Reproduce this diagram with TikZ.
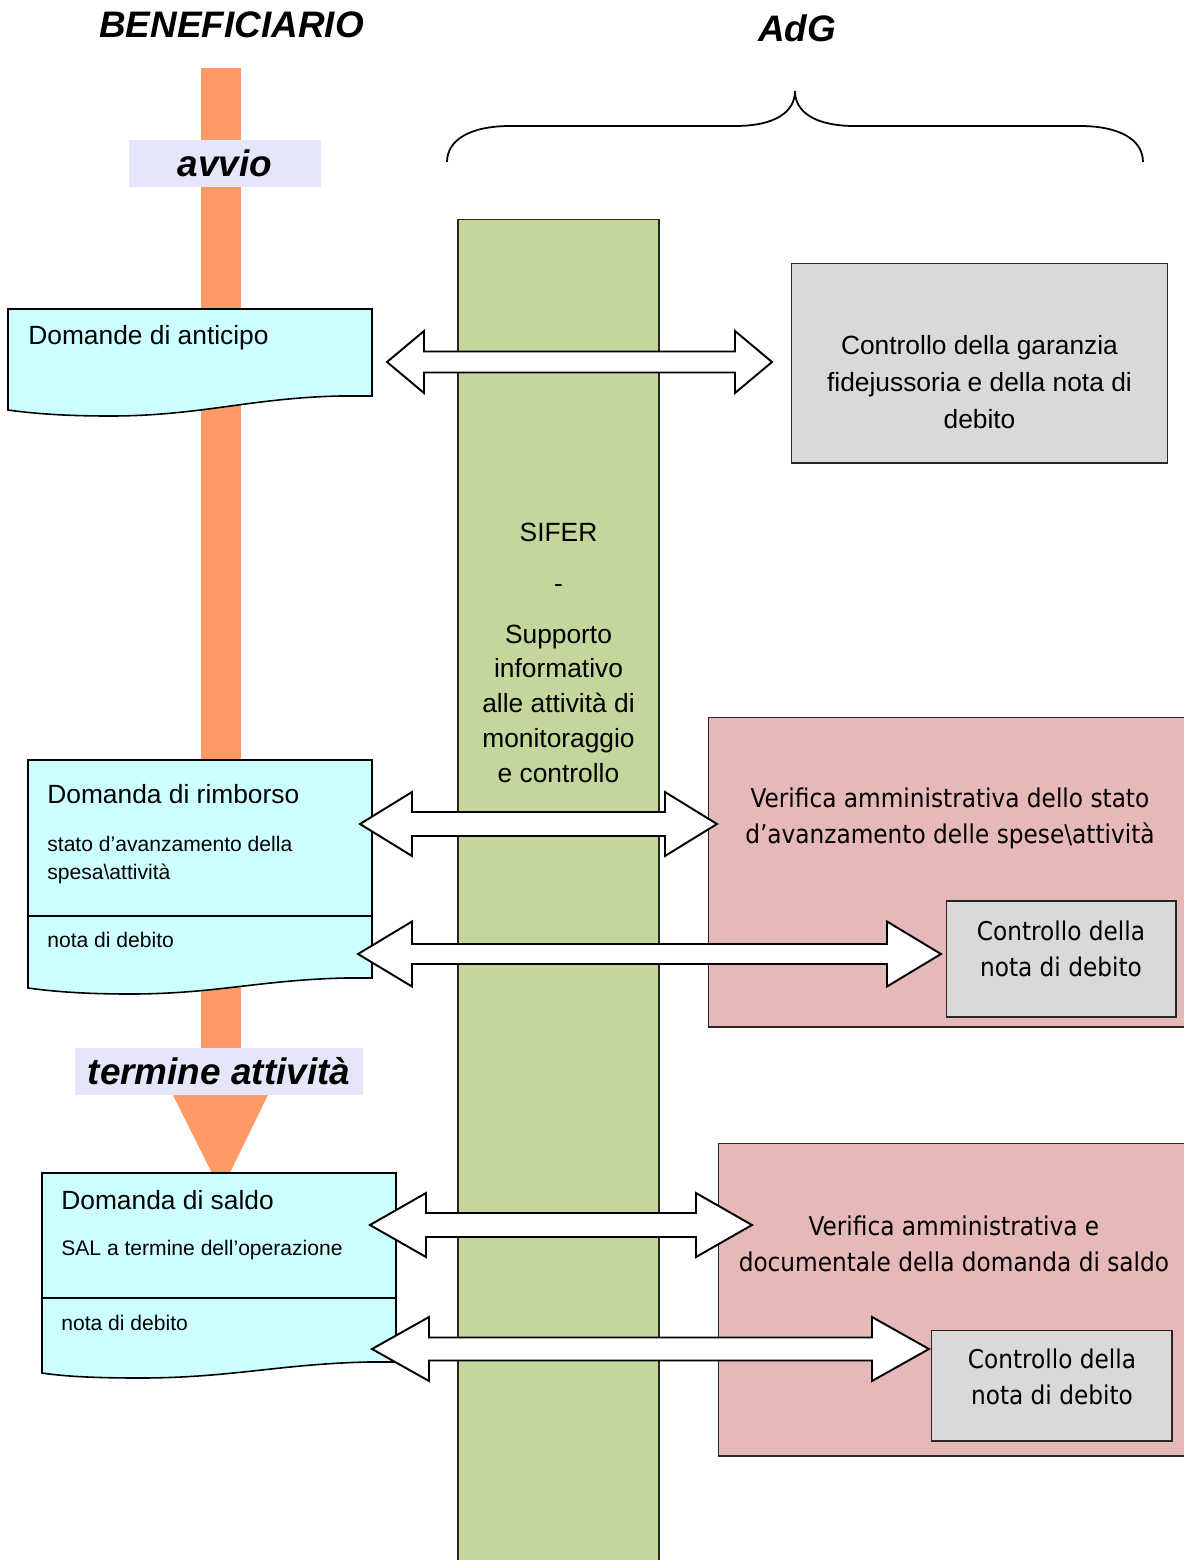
\documentclass[tikz,border=0pt]{standalone}
\usepackage{fontspec}
\setmainfont{Liberation Sans}
\newfontfamily\condfont{DejaVu Sans Condensed}
\usetikzlibrary{calc}

\definecolor{barorange}{HTML}{FF9966}
\definecolor{tagbg}{HTML}{E6E6FA}
\definecolor{doccyan}{HTML}{CCFFFF}
\definecolor{colgreen}{HTML}{C3D69B}
\definecolor{ctrlgray}{HTML}{D9D9D9}
\definecolor{verpink}{HTML}{E6B9B8}

% double-headed block arrow: #1 left tip, #2 right tip, #3 head length,
% #4 half shaft thickness, #5 half head height
\newcommand{\blockarrow}[5]{%
  \draw[twoway] (#1) -- ($(#1)+(#3,-#5)$) -- ($(#1)+(#3,-#4)$)
    -- ($(#2)+(-#3,-#4)$) -- ($(#2)+(-#3,-#5)$) -- (#2)
    -- ($(#2)+(-#3,#5)$) -- ($(#2)+(-#3,#4)$)
    -- ($(#1)+(#3,#4)$) -- ($(#1)+(#3,#5)$) -- cycle;}

\begin{document}
\begin{tikzpicture}[x=0.02cm,y=-0.02cm,
  title/.style={font=\fontsize{21}{25}\selectfont\bfseries\itshape, inner sep=0pt},
  tag/.style={fill=tagbg, inner sep=0pt, minimum height=0.94cm,
    font=\fontsize{21}{25}\selectfont\bfseries\itshape},
  panel/.style={draw=black!85, line width=0.6pt, inner sep=0pt},
  docshape/.style={draw=black, fill=doccyan, line width=0.9pt},
  twoway/.style={draw=black, fill=white, line width=1.1pt, line join=miter},
  bigtxt/.style={font=\fontsize{15}{21}\selectfont, inner sep=0pt},
  smalltxt/.style={font=\fontsize{12}{16}\selectfont, inner sep=0pt},
  condtxt/.style={font=\condfont\fontsize{14.7}{20.6}\selectfont, inner sep=0pt, align=center}
]
\useasboundingbox (0,0) rectangle (1184,1560);
\clip (0,0) rectangle (1184,1560);

% column headings
\node[title] (benef) at (231.5,25) {BENEFICIARIO};
\node[title] (adg) at (797,28) {AdG};

% brace spanning the managing authority side
\draw[line width=1pt] (447,162) .. controls (447,140) and (470,126) .. (510,126)
  -- (735,126) .. controls (775,126) and (795,112) .. (795,91)
  .. controls (795,112) and (815,126) .. (855,126)
  -- (1080,126) .. controls (1120,126) and (1143,140) .. (1143,162);

% information system column
\node[panel, fill=colgreen, minimum width=4.02cm, minimum height=27.62cm] (sifer) at (558.5,909.5) {};

% verification panels
\node[panel, fill=ctrlgray, minimum width=7.54cm, minimum height=4cm] (garanzia) at (979.5,363) {};
\node[panel, fill=verpink, minimum width=9.84cm, minimum height=6.2cm] (verifica1) at (954,872) {};
\node[panel, fill=ctrlgray, minimum width=4.6cm, minimum height=2.32cm] (nota1) at (1061,959) {};
\node[panel, fill=verpink, minimum width=9.64cm, minimum height=6.26cm] (verifica2) at (959,1299.5) {};
\node[panel, fill=ctrlgray, minimum width=4.82cm, minimum height=2.22cm] (nota2) at (1051.5,1385.5) {};

% beneficiary timeline
\fill[barorange] (201,68) rectangle (241,1100);
\fill[barorange] (173,1095) -- (268,1095) -- (221,1191) -- cycle;
\node[tag, minimum width=3.84cm] (avvio) at (225,163.5) {avvio};
\node[tag, minimum width=5.76cm] (termine) at (219,1071.5) {termine attività};

% requests submitted by the beneficiary
\draw[docshape] (8,309) -- (372,309) -- (372,396) -- (340,396)
  .. controls (250,398) and (200,416) .. (110,416)
  .. controls (60,416) and (30,413) .. (8,410) -- cycle;
\draw[docshape] (28,760) -- (372,760) -- (372,978) -- (345,978)
  .. controls (260,980) and (215,994) .. (130,994)
  .. controls (80,994) and (50,991) .. (28,988) -- cycle;
\draw[black, line width=0.9pt] (28,916) -- (372,916);
\draw[docshape] (42,1173) -- (396,1173) -- (396,1362) -- (368,1362)
  .. controls (280,1364) and (230,1378) .. (140,1378)
  .. controls (90,1378) and (62,1376) .. (42,1373) -- cycle;
\draw[black, line width=0.9pt] (42,1298) -- (396,1298);

\node[bigtxt, anchor=base west] (anticipo) at (28,344) {Domande di anticipo};
\node[bigtxt, anchor=base west] (rimborso) at (47,803) {Domanda di rimborso};
\node[smalltxt, anchor=base west] (stato) at (47,851) {stato d’avanzamento della};
\node[smalltxt, anchor=base west] (spesa) at (47,879) {spesa\textbackslash attività};
\node[smalltxt, anchor=base west] (debito1) at (47,947) {nota di debito};
\node[bigtxt, anchor=base west] (saldo) at (61,1209) {Domanda di saldo};
\node[smalltxt, anchor=base west] (sal) at (61,1255) {SAL a termine dell’operazione};
\node[smalltxt, anchor=base west] (debito2) at (61,1330) {nota di debito};

% exchanges through the information system
\coordinate (a1l) at (387,362);  \coordinate (a1r) at (772,362);
\coordinate (a2l) at (360,824);  \coordinate (a2r) at (717,824);
\coordinate (a3l) at (358,954);  \coordinate (a3r) at (941,954);
\coordinate (a4l) at (370,1225); \coordinate (a4r) at (752,1225);
\coordinate (a5l) at (372,1349); \coordinate (a5r) at (929,1349);
\blockarrow{a1l}{a1r}{37}{10.5}{31}
\blockarrow{a2l}{a2r}{52}{12}{32}
\blockarrow{a3l}{a3r}{54}{10}{32.5}
\blockarrow{a4l}{a4r}{56}{12}{32}
\blockarrow{a5l}{a5r}{57}{11.5}{32}

% texts of the authority side
\node[font=\fontsize{15}{19.8}\selectfont, align=center, inner sep=0pt] (sifertxt) at (558.5,653)
  {SIFER\\[9pt]-\\[9pt]Supporto\\informativo\\alle attività di\\monitoraggio\\e controllo};
\node[bigtxt, align=center] (garanziatxt) at (979.5,382)
  {Controllo della garanzia\\fidejussoria e della nota di\\debito};
\node[condtxt] (verifica1txt) at (950,818)
  {Verifica amministrativa dello stato\\d’avanzamento delle spese\textbackslash attività};
\node[condtxt] (nota1txt) at (1061,948.5) {Controllo della\\nota di debito};
\node[condtxt] (verifica2txt) at (954,1243.5)
  {Verifica amministrativa e\\documentale della domanda di saldo};
\node[condtxt] (nota2txt) at (1052,1376.5) {Controllo della\\nota di debito};
\end{tikzpicture}
\end{document}
